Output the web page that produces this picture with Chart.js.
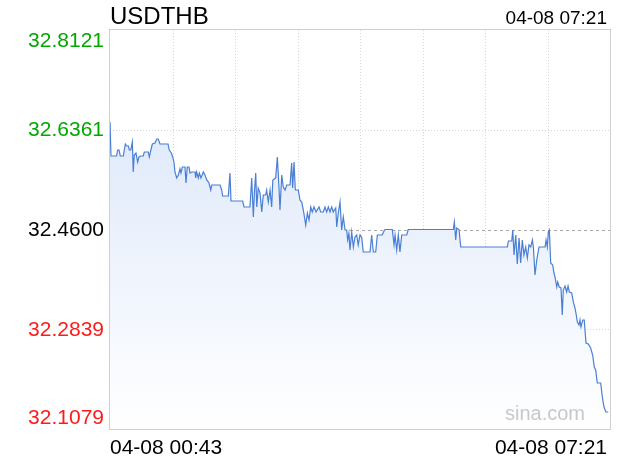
<!DOCTYPE html>
<html>
<head>
<meta charset="utf-8">
<script src="https://cdn.jsdelivr.net/npm/chart.js@4"></script>
<style>
  body { margin: 0; background: #fff; }
</style>
</head>
<body>
<canvas id="fxChart" width="620" height="460"></canvas>
<script>
// minutes since 04-08 00:43 and USDTHB price at each point
const minutes = [0.0, 0.8, 5.2, 6.1, 7.2, 8.2, 10.6, 12.2, 13.3, 14.6, 15.4, 16.5, 17.8, 18.5, 19.3, 20.7, 22.0, 23.1, 24.4, 26.5,
  27.3, 30.5, 31.3, 32.4, 33.7, 35.8, 37.2, 38.4, 39.8, 46.2, 47.2, 48.8, 49.9, 50.9, 51.7, 53.1, 54.4, 55.7, 56.5, 57.6,
  59.7, 60.5, 61.5, 62.9, 63.7, 65.0, 67.7, 68.2, 69.0, 70.3, 71.1, 72.4, 74.3, 75.6, 77.0, 78.8, 80.2, 81.0, 87.6, 88.9,
  89.7, 94.2, 95.5, 96.3, 105.6, 106.7, 111.4, 112.8, 114.1, 114.9, 116.0, 116.8, 118.0, 119.4, 120.8, 122.0, 123.9, 124.7, 126.0, 127.4,
  128.7, 129.6, 131.9, 133.2, 134.5, 135.3, 136.7, 137.9, 139.3, 140.7, 143.3, 144.6, 145.4, 146.5, 147.5, 149.9, 151.2, 152.6, 153.9, 155.8,
  157.1, 158.4, 159.8, 161.0, 162.4, 164.0, 166.4, 167.7, 169.8, 171.1, 172.5, 173.8, 175.1, 176.5, 177.7, 179.7, 180.5, 181.7, 183.1, 184.4,
  185.7, 187.1, 188.4, 189.2, 190.2, 191.0, 192.4, 193.7, 195.0, 196.4, 197.6, 199.0, 200.3, 201.6, 207.0, 208.3, 209.6, 211.5, 212.8, 216.7,
  218.1, 218.9, 224.7, 226.1, 226.9, 228.2, 229.5, 230.8, 232.2, 236.2, 237.4, 273.3, 274.1, 275.2, 276.0, 277.8, 279.2, 316.3, 317.1, 319.8,
  320.6, 321.6, 323.0, 324.2, 325.6, 326.9, 328.2, 329.5, 330.9, 332.2, 333.5, 334.9, 336.2, 337.0, 338.3, 339.7, 341.5, 346.3, 347.1, 348.1,
  348.9, 349.7, 350.8, 352.4, 353.4, 354.2, 355.6, 356.4, 357.6, 359.0, 360.0, 360.8, 362.2, 363.5, 364.6, 365.6, 367.5, 368.8, 370.1, 370.9,
  372.0, 373.3, 374.1, 374.9, 376.3, 377.5, 378.1, 378.9, 380.7, 382.6, 384.2, 385.5, 386.6, 387.9, 390.6, 391.9, 393.2, 394.8, 396.6];

const prices = [32.6497, 32.5897, 32.5897, 32.6003, 32.6003, 32.5897, 32.5897, 32.6109, 32.6074, 32.6074, 32.6003, 32.6003, 32.6144, 32.5615, 32.5915, 32.5950, 32.5791, 32.5880, 32.5897, 32.5897,
  32.5968, 32.5968, 32.5880, 32.5986, 32.6109, 32.6127, 32.6197, 32.6197, 32.6109, 32.6109, 32.6003, 32.5950, 32.5880, 32.5791, 32.5615, 32.5509, 32.5562, 32.5668, 32.5597, 32.5703,
  32.5703, 32.5421, 32.5703, 32.5703, 32.5597, 32.5615, 32.5615, 32.5509, 32.5615, 32.5509, 32.5597, 32.5509, 32.5615, 32.5562, 32.5474, 32.5421, 32.5297, 32.5385, 32.5385, 32.5297,
  32.5191, 32.5191, 32.5597, 32.5103, 32.5103, 32.4997, 32.4997, 32.5509, 32.4821, 32.5244, 32.5597, 32.4997, 32.5332, 32.5244, 32.4909, 32.5209, 32.5209, 32.5297, 32.5085, 32.5297,
  32.4997, 32.5474, 32.5509, 32.5880, 32.5350, 32.4944, 32.5562, 32.5350, 32.5297, 32.5385, 32.5385, 32.5774, 32.5332, 32.5791, 32.5297, 32.5297, 32.5121, 32.5085, 32.4944, 32.4679,
  32.4891, 32.4768, 32.4997, 32.4909, 32.4997, 32.4909, 32.4997, 32.4909, 32.4909, 32.4997, 32.4909, 32.4997, 32.4909, 32.4997, 32.4909, 32.4980, 32.4644, 32.4891, 32.5085, 32.4591,
  32.4821, 32.4591, 32.4591, 32.4415, 32.4538, 32.4238, 32.4556, 32.4291, 32.4468, 32.4503, 32.4327, 32.4503, 32.4468, 32.4203, 32.4203, 32.4503, 32.4203, 32.4203, 32.4503, 32.4503,
  32.4574, 32.4600, 32.4600, 32.4327, 32.4503, 32.4238, 32.4503, 32.4203, 32.4503, 32.4503, 32.4600, 32.4600, 32.4732, 32.4415, 32.4627, 32.4600, 32.4291, 32.4291, 32.4397, 32.4397,
  32.4591, 32.4150, 32.4503, 32.3991, 32.4450, 32.4009, 32.4415, 32.4150, 32.4291, 32.4097, 32.4327, 32.4291, 32.4415, 32.4291, 32.3797, 32.4062, 32.4291, 32.4291, 32.4415, 32.4291,
  32.4556, 32.4591, 32.4009, 32.3974, 32.3832, 32.3762, 32.3585, 32.3674, 32.3585, 32.3568, 32.3091, 32.3532, 32.3603, 32.3497, 32.3603, 32.3497, 32.3479, 32.3321, 32.3215, 32.3126,
  32.2968, 32.2915, 32.3003, 32.2879, 32.3003, 32.3003, 32.2826, 32.2597, 32.2579, 32.2509, 32.2385, 32.2173, 32.2120, 32.1891, 32.1891, 32.1644, 32.1467, 32.1379, 32.1379];

const yTicks = [32.1079, 32.2839, 32.4600, 32.6361, 32.8121];
const yTickLabels = ['32.1079', '32.2839', '32.4600', '32.6361', '32.8121'];
const prevClose = 32.4600;
const xTickLabels = ['04-08 00:43', '04-08 07:21'];
const totalMinutes = 398;
const xDivisions = 8;
const symbol = 'USDTHB';
const lastTime = '04-08 07:21';

const FONT = "'Liberation Sans', Arial, sans-serif";
Chart.defaults.font.family = FONT;

const points = minutes.map((m, i) => ({ x: m, y: prices[i] }));

const sinaPlugin = {
  id: 'sinaDecor',
  beforeDatasetsDraw(chart) {
    const { ctx, chartArea: a, scales: { x, y } } = chart;
    ctx.save();
    ctx.lineWidth = 1;
    // vertical dotted grid
    ctx.strokeStyle = '#d6d6d6';
    ctx.setLineDash([1, 2]);
    for (let i = 1; i < xDivisions; i++) {
      const px = Math.round(x.getPixelForValue(totalMinutes * i / xDivisions)) + 0.5;
      ctx.beginPath();
      ctx.moveTo(px, a.top);
      ctx.lineTo(px, a.bottom);
      ctx.stroke();
    }
    // horizontal grid
    yTicks.forEach((v, i) => {
      if (i === 0 || i === yTicks.length - 1) return;
      const py = Math.round(y.getPixelForValue(v)) + 0.5;
      if (v === prevClose) {
        ctx.strokeStyle = '#a8a8a8';
        ctx.setLineDash([3, 3]);
      } else {
        ctx.strokeStyle = '#d6d6d6';
        ctx.setLineDash([1, 2]);
      }
      ctx.beginPath();
      ctx.moveTo(a.left, py);
      ctx.lineTo(a.right, py);
      ctx.stroke();
    });
    ctx.setLineDash([]);
    ctx.strokeStyle = '#d0d0d0';
    ctx.strokeRect(Math.round(a.left) - 0.5, Math.round(a.top) - 0.5, Math.round(a.right - a.left) + 1, Math.round(a.bottom - a.top) + 1);
    ctx.restore();
  },
  afterDraw(chart) {
    const { ctx, chartArea: a, scales: { y } } = chart;
    ctx.save();
    // y labels
    ctx.font = '21px ' + FONT;
    ctx.textAlign = 'right';
    ctx.textBaseline = 'alphabetic';
    yTicks.forEach((v, i) => {
      let py = y.getPixelForValue(v) + 6.5;
      if (i === yTicks.length - 1) py = a.top + 16.5;
      if (i === 0) py = a.bottom - 5.5;
      ctx.fillStyle = v > prevClose ? '#00a800' : (v < prevClose ? '#ff1a1a' : '#000');
      ctx.fillText(yTickLabels[i], a.left - 6, py);
    });
    // x labels
    ctx.fillStyle = '#000';
    ctx.textAlign = 'left';
    ctx.fillText(xTickLabels[0], a.left, a.bottom + 25);
    ctx.textAlign = 'right';
    ctx.fillText(xTickLabels[1], a.right - 3, a.bottom + 25);
    // title and last time
    ctx.textAlign = 'left';
    ctx.font = '24px ' + FONT;
    ctx.fillText(symbol, a.left, 24);
    ctx.textAlign = 'right';
    ctx.font = '19px ' + FONT;
    ctx.fillText(lastTime, a.right - 3, 24);
    // watermark
    ctx.fillStyle = '#c8c8c8';
    ctx.font = '20px ' + FONT;
    ctx.fillText('sina.com', 585, 420);
    ctx.restore();
  }
};

const ctx = document.getElementById('fxChart').getContext('2d');
new Chart(ctx, {
  type: 'line',
  data: {
    datasets: [{
      data: points,
      borderColor: '#4a7fd5',
      borderWidth: 1.2,
      pointRadius: 0,
      tension: 0,
      fill: 'start',
      backgroundColor: (c) => {
        const a = c.chart.chartArea;
        if (!a) return 'rgba(220,232,250,0.8)';
        const g = c.chart.ctx.createLinearGradient(0, a.top, 0, a.bottom);
        g.addColorStop(0, '#d6e3f9');
        g.addColorStop(1, '#ffffff');
        return g;
      }
    }]
  },
  options: {
    responsive: false,
    animation: false,
    layout: { padding: { left: 110, right: 10, top: 30, bottom: 31 } },
    plugins: { legend: { display: false }, tooltip: { enabled: false } },
    scales: {
      x: {
        type: 'linear',
        display: false,
        min: 0,
        max: totalMinutes
      },
      y: {
        display: false,
        min: yTicks[0],
        max: yTicks[yTicks.length - 1]
      }
    }
  },
  plugins: [sinaPlugin]
});
</script>
</body>
</html>
